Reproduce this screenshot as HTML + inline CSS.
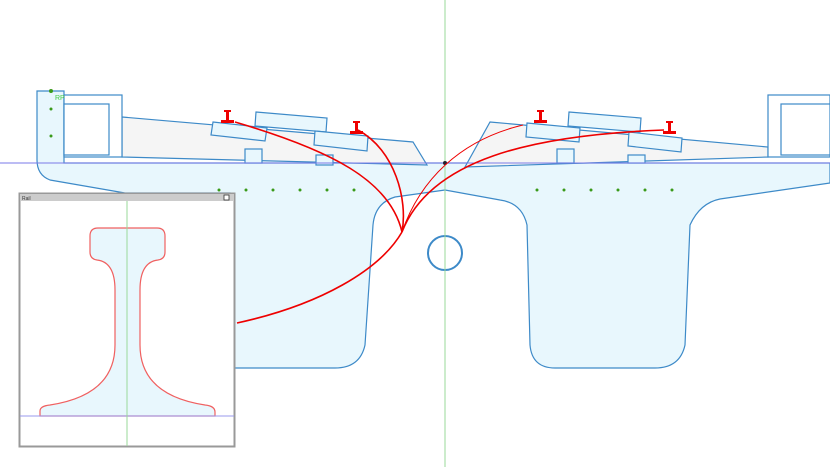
<!DOCTYPE html>
<html><head><meta charset="utf-8"><style>body{margin:0;background:#fff}svg{display:block}</style></head><body>
<svg width="830" height="467" viewBox="0 0 830 467" xmlns="http://www.w3.org/2000/svg" font-family="Liberation Sans, sans-serif">
<g stroke="#3d8ac8" stroke-width="1.2" fill="#e8f7fd">
<!-- deck -->
<path d="M37,91 H64 V163 H830 V183 L720,199 Q700,203 690,225 L685,345 Q680,368 655,368 H555 Q532,368 530,345 L527,225 Q522,203 500,200 L445,190 L395,197 Q375,203 373,225 L365,345 Q360,368 335,368 H230 V193 L125,193 L50,180 Q37,175 37,160 Z"/>
<!-- gray fill left/right -->
<path d="M122,117 L413,142 L427,165 L122,157 Z" fill="#f5f5f5"/>
<path d="M490,122 L768,147 L768,157 L465,167 Z" fill="#f5f5f5"/>
<rect x="64" y="95" width="58" height="62" fill="#fff"/>
<rect x="64" y="104" width="45" height="51" fill="#fff"/>
<rect x="768" y="95" width="62" height="62" fill="#fff"/>
<rect x="781" y="104" width="49" height="51" fill="#fff"/>
<!-- sleepers -->
<polygon points="213,122 267,128 265,141 211,135"/>
<polygon points="256,112 327,118 326,132 255,126"/>
<polygon points="315,131 368,136 367,151 314,145"/>
<polygon points="527,123 580,128 579,142 526,137"/>
<polygon points="569,112 641,118 640,132 568,126"/>
<polygon points="629,132 682,138 681,152 628,146"/>
<rect x="245" y="149" width="17" height="14"/>
<rect x="316" y="155" width="17" height="10"/>
<rect x="557" y="149" width="17" height="14"/>
<rect x="628" y="155" width="17" height="8"/>
<circle cx="445" cy="253" r="17" fill="none" stroke-width="2"/>
</g>
<line x1="0" y1="163" x2="830" y2="163" stroke="#7a7ae8" stroke-width="1"/>
<line x1="445" y1="0" x2="445" y2="467" stroke="#9ad89a" stroke-width="1"/>
<circle cx="445" cy="163" r="2" fill="#223"/>
<g fill="#3a9a1a">
<circle cx="51" cy="91" r="2"/><circle cx="51" cy="109" r="1.5"/><circle cx="51" cy="136" r="1.5"/>
<circle cx="219" cy="190" r="1.5"/><circle cx="246" cy="190" r="1.5"/><circle cx="273" cy="190" r="1.5"/><circle cx="300" cy="190" r="1.5"/><circle cx="327" cy="190" r="1.5"/><circle cx="354" cy="190" r="1.5"/>
<circle cx="537" cy="190" r="1.5"/><circle cx="564" cy="190" r="1.5"/><circle cx="591" cy="190" r="1.5"/><circle cx="618" cy="190" r="1.5"/><circle cx="645" cy="190" r="1.5"/><circle cx="672" cy="190" r="1.5"/>
</g>
<text x="55" y="100" font-size="7" fill="#4c4">RP</text>
<!-- rails -->
<g fill="#e00">
<path d="M224,110h7v2h-2v8h5v3h-13v-3h5v-8h-2z"/>
<path d="M353,121h7v2h-2v8h5v3h-13v-3h5v-8h-2z"/>
<path d="M537,110h7v2h-2v8h5v3h-13v-3h5v-8h-2z"/>
<path d="M666,121h7v2h-2v8h5v3h-13v-3h5v-8h-2z"/>
</g>
<g stroke="#e00" stroke-width="1.6" fill="none">
<path d="M235,122 C330,150 390,180 402,232"/>
<path d="M358,130 C395,150 408,200 402,232"/>
<path d="M523,125 C460,140 420,180 402,232" stroke-width="1"/>
<path d="M664,130 C530,135 430,160 402,232"/>
<path d="M402,232 C380,270 320,305 237,323"/>
</g>
<!-- inset -->
<rect x="19.5" y="193.5" width="215" height="253" fill="#fff" stroke="#999" stroke-width="2"/>
<rect x="20" y="194" width="214" height="7" fill="#ccc"/>
<text x="22" y="200" font-size="5" fill="#333">Rail</text>
<rect x="224" y="195" width="5" height="5" fill="#fff" stroke="#333" stroke-width="0.8"/>
<path d="M98,228 H157 Q165,228 165,236 V252 Q165,259 158,260 Q140,262 140,290 V345 Q140,395 205,405 Q215,406 215,412 V416 H40 V411 Q40,406 50,405 Q115,395 115,345 V290 Q115,262 97,260 Q90,259 90,252 V236 Q90,228 98,228 Z" fill="#e8f7fd" stroke="#f06060" stroke-width="1.2"/>
<line x1="20" y1="416" x2="234" y2="416" stroke="#9999ee"/>
<line x1="127" y1="201" x2="127" y2="446" stroke="#9ad89a"/>
</svg>
</body></html>
